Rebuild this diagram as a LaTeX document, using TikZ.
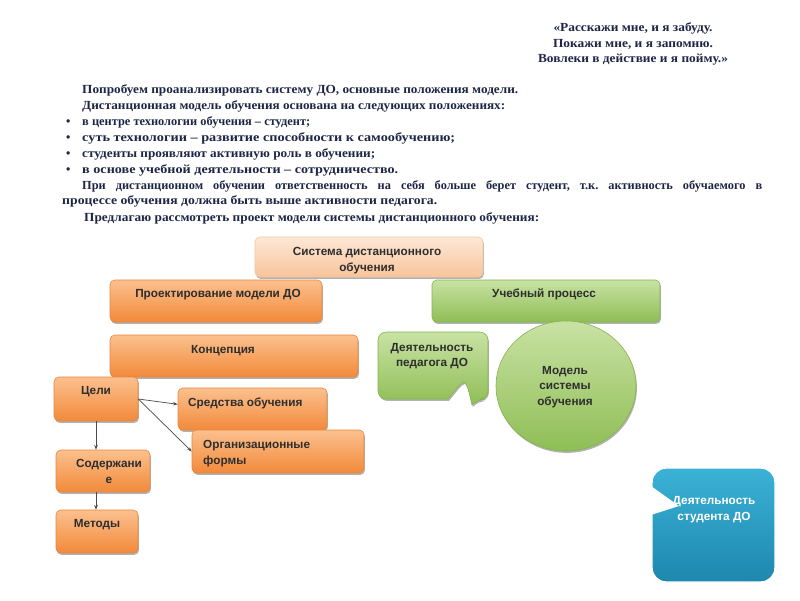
\documentclass[tikz,border=0pt]{standalone}
\usepackage{fontspec}
\usepackage{graphicx}
\setmainfont{Liberation Serif}
\newfontfamily\boxfont{Liberation Sans}
\usetikzlibrary{shapes.geometric,shadows,fit,arrows.meta}
\newlength\pxu
\setlength\pxu{0.85pt}
\newcommand\fitw[2]{\resizebox{#1\pxu}{\height}{#2}}
\definecolor{otop}{HTML}{FBC08E}
\definecolor{obot}{HTML}{F28A3A}
\definecolor{oedge}{HTML}{E8873F}
\definecolor{gtop}{HTML}{C9E2A4}
\definecolor{gbot}{HTML}{8EBE55}
\definecolor{gedge}{HTML}{86B44E}
\definecolor{ptop}{HTML}{FDE8D6}
\definecolor{pbot}{HTML}{F8C49A}
\definecolor{pedge}{HTML}{F3C7A2}
\definecolor{btop}{HTML}{3BB2D6}
\definecolor{bbot}{HTML}{1E87AE}
\definecolor{bodyc}{HTML}{1D2645}
\definecolor{boxtc}{HTML}{2E2E2E}
\definecolor{arrc}{HTML}{4A4A4A}
\frenchspacing
\begin{document}
\begin{tikzpicture}[x=0.85pt,y=-0.85pt,
  sh/.style={drop shadow={shadow xshift=0.8pt,shadow yshift=-1.6pt,fill=black,opacity=0.3}},
  obox/.style={rectangle,rounded corners=4pt,draw=oedge,line width=0.5pt,top color=otop,bottom color=obot,inner sep=0pt,sh},
  gbox/.style={rectangle,rounded corners=4pt,draw=gedge,line width=0.5pt,top color=gtop,bottom color=gbot,inner sep=0pt,sh},
  pbox/.style={rectangle,rounded corners=4pt,draw=pedge,line width=0.5pt,top color=ptop,bottom color=pbot,inner sep=0pt,sh},
  body/.style={font=\bfseries\fontsize{10.5}{12}\selectfont,text=bodyc,inner sep=0pt,anchor=base west},
  quote/.style={font=\bfseries\fontsize{10.5}{12}\selectfont,text=bodyc,inner sep=0pt,anchor=base},
  btxt/.style={font=\boxfont\bfseries\fontsize{10}{12}\selectfont,text=boxtc,inner sep=0pt,anchor=base},
  arr/.style={draw=arrc,line width=0.6pt,-{Stealth[length=4pt,width=3pt]}}
]
\useasboundingbox[fill=white] (0,0) rectangle (800,600);

% quote
\node[quote] (q1) at (633,31) {\fitw{159}{«Расскажи мне, и я забуду.}};
\node[quote] (q2) at (633,47) {\fitw{160}{Покажи мне, и я запомню.}};
\node[quote] (q3) at (633,62) {\fitw{190}{Вовлеки в действие и я пойму.»}};

% body text
\node[body] (l1) at (82,93) {\fitw{436}{Попробуем проанализировать систему ДО, основные положения модели.}};
\node[body] (l2) at (82,109) {\fitw{423}{Дистанционная модель обучения основана на следующих положениях:}};
\node[body] (d1) at (66,125) {•};
\node[body] (b1) at (82,125) {\fitw{228}{в центре технологии обучения – студент;}};
\node[body] (d2) at (66,141) {•};
\node[body] (b2) at (82,141) {\fitw{373}{суть технологии – развитие способности к самообучению;}};
\node[body] (d3) at (66,157) {•};
\node[body] (b3) at (82,157) {\fitw{293}{студенты проявляют активную роль в обучении;}};
\node[body] (d4) at (66,173) {•};
\node[body] (b4) at (82,173) {\fitw{316}{в основе учебной деятельности – сотрудничество.}};
\node[body] (p1) at (82,189) {\makebox[680\pxu][s]{При дистанционном обучении ответственность на себя больше берет студент, т.к. активность обучаемого в}};
\node[body] (p2) at (62,204) {\fitw{375}{процессе обучения должна быть выше активности педагога.}};
\node[body] (p3) at (84,221) {\fitw{455}{Предлагаю рассмотреть проект модели системы дистанционного обучения:}};

% boxes
\node[pbox,fit={(255,237) (483,277)}] (sys) {};
\node[obox,fit={(110,280) (322,322)}] (proekt) {};
\node[gbox,fit={(432,280) (660,322)}] (ucheb) {};
\node[obox,fit={(110,335) (358,377)}] (konc) {};
\node[obox,fit={(54,377) (138,421)}] (celi) {};
\node[obox,fit={(178,388) (327,430)}] (sredstva) {};
\node[obox,fit={(192,430) (364,473)}] (org) {};
\node[obox,fit={(56,450) (150,492)}] (soderzh) {};
\node[obox,fit={(56,510) (138,553)}] (metody) {};

% callout box
\path[draw=gedge,line width=0.5pt,top color=gtop,bottom color=gbot,sh,rounded corners=7pt]
  (440,399) -- (378,399) -- (378,332) -- (488,332) -- (488,399) -- (477,399)
  [sharp corners] -- (472,405) .. controls (469,392) and (467,383) .. (464,382)
  .. controls (460,383) and (455,391) .. (448,399) -- cycle;

% ellipse
\node[ellipse,draw=gedge,line width=0.5pt,top color=gtop,bottom color=gbot,sh,
  minimum width=140\pxu,minimum height=130\pxu,inner sep=0pt] (model) at (566,386) {};

% blue box
\node[rectangle,rounded corners=12pt,draw=white,line width=1.2pt,top color=btop,bottom color=bbot,
  inner sep=0pt,fit={(652,468) (775,582)}] (stud) {};

% box texts
\node[btxt] (t-sys1) at (367,255) {Система дистанционного};
\node[btxt] (t-sys2) at (367,271) {обучения};
\node[btxt] (t-proekt) at (218,297) {Проектирование модели ДО};
\node[btxt] (t-ucheb) at (544,297) {Учебный процесс};
\node[btxt] (t-konc) at (223,353) {Концепция};
\node[btxt] (t-celi) at (96,394) {Цели};
\node[btxt,anchor=base west] (t-sred) at (188,406) {Средства обучения};
\node[btxt,anchor=base west] (t-org1) at (203,448) {Организационные};
\node[btxt,anchor=base west] (t-org2) at (203,464) {формы};
\node[btxt] (t-sod1) at (109,467) {Содержани};
\node[btxt] (t-sod2) at (109,483) {е};
\node[btxt] (t-met) at (97,527) {Методы};
\node[btxt] (t-ped1) at (432,351) {Деятельность};
\node[btxt] (t-ped2) at (432,366) {педагога ДО};
\node[btxt] (t-mod1) at (565,374) {Модель};
\node[btxt] (t-mod2) at (565,389) {системы};
\node[btxt] (t-mod3) at (565,405) {обучения};
\node[btxt,text=white] (t-st1) at (714,504) {Деятельность};
\node[btxt,text=white] (t-st2) at (714,520) {студента ДО};
\fill[white] (651,486) -- (679,506) -- (651,515) -- cycle;

% arrows
\draw[arr] (celi.east) -- ([yshift=4pt]sredstva.west);
\draw[arr] (celi.east) -- (org.west);
\draw[arr] (celi.south) -- (celi.south |- soderzh.north);
\draw[arr] (celi.south |- soderzh.south) -- (celi.south |- metody.north);
\end{tikzpicture}
\end{document}
